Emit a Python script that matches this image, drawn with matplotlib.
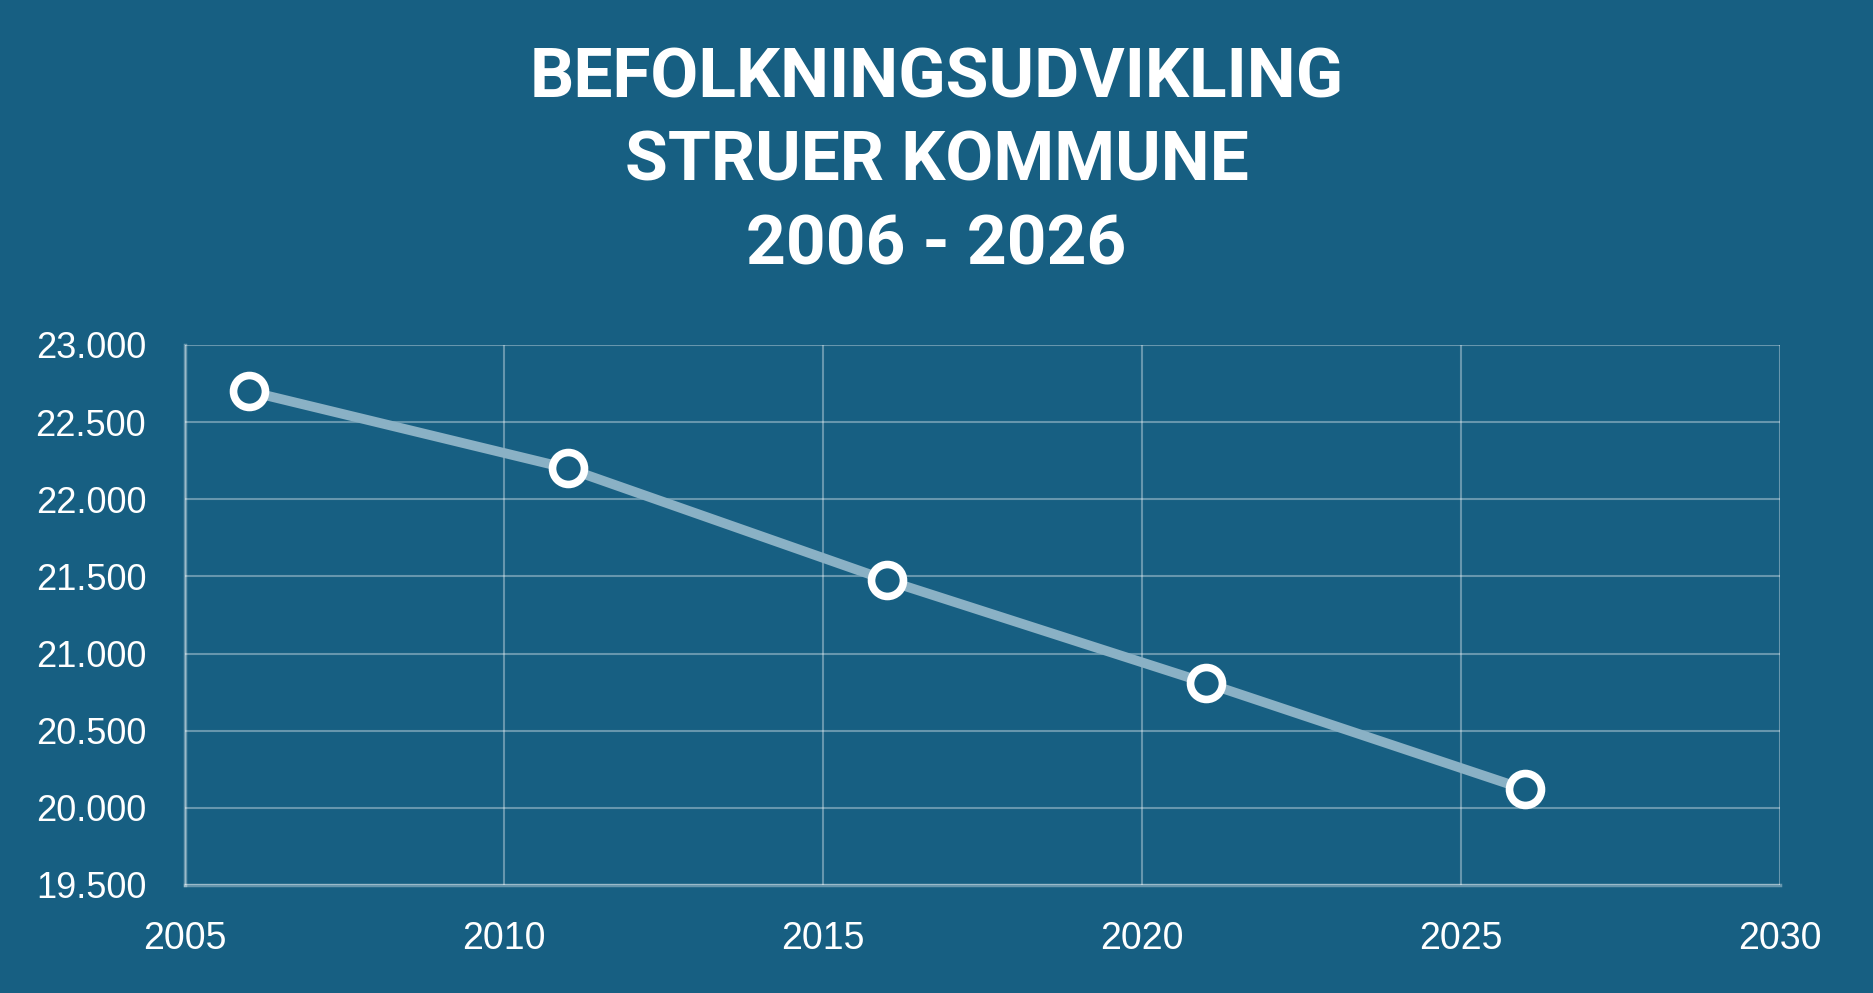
import matplotlib.pyplot as plt
from matplotlib.ticker import FuncFormatter

# population, Struer Kommune
years = [2006, 2011, 2016, 2021, 2026]
population = [22700, 22200, 21475, 20810, 20120]

title_lines = ["BEFOLKNINGSUDVIKLING", "STRUER KOMMUNE", "2006 - 2026"]
x_ticks = [2005, 2010, 2015, 2020, 2025, 2030]
y_ticks = [19500, 20000, 20500, 21000, 21500, 22000, 22500, 23000]

bg = "#175f82"

fig = plt.figure(figsize=(18.73, 9.93), dpi=100, facecolor=bg)
ax = fig.add_axes([0.0988, 0.1088, 0.8515, 0.5438], facecolor=bg)

ax.plot(years, population, color="#8ab1c5", linewidth=7, zorder=3,
        marker="o", markersize=23, markerfacecolor=bg,
        markeredgecolor="white", markeredgewidth=5.5)

ax.set_xlim(2005, 2030)
ax.set_ylim(19500, 23000)
ax.set_xticks(x_ticks)
ax.set_yticks(y_ticks)
ax.yaxis.set_major_formatter(FuncFormatter(lambda v, p: f"{v:,.0f}".replace(",", ".")))

ax.grid(True, color="white", alpha=0.35, linewidth=1.5)
ax.set_axisbelow(True)
for side in ["top", "right"]:
    ax.spines[side].set_visible(False)
for side in ["left", "bottom"]:
    ax.spines[side].set_color((1, 1, 1, 0.35))
    ax.spines[side].set_linewidth(2.5)

ax.tick_params(length=0, colors="white")
for lbl in ax.get_yticklabels():
    lbl.set_fontfamily("Liberation Sans")
    lbl.set_fontsize(26)
for lbl in ax.get_xticklabels():
    lbl.set_fontfamily("Liberation Sans")
    lbl.set_fontsize(27)
ax.tick_params(axis="y", pad=28)
ax.tick_params(axis="x", pad=26)

for ypos, line in zip([0.920, 0.837, 0.752], title_lines):
    fig.text(0.5, ypos, line, ha="center", va="center", color="white",
             fontsize=50, fontweight="bold", family="Roboto")

fig.savefig("out.png", dpi=100, facecolor=bg)
